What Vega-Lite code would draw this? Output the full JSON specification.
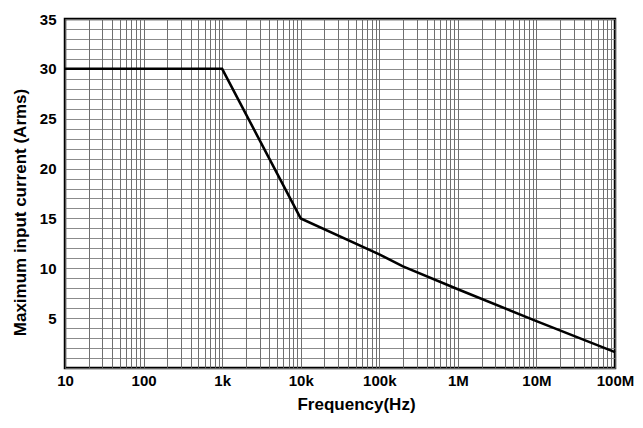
{
  "$schema": "https://vega.github.io/schema/vega-lite/v6.json",
  "autosize": {"type": "none"},
  "padding": {"left": 65, "top": 19, "right": 28, "bottom": 60},
  "width": 550,
  "height": 349,
  "background": "white",
  "config": {
    "view": {"stroke": "black", "strokeWidth": 2.5},
    "font": "Liberation Sans"
  },
  "data": {
    "values": [
      {"freq": 10, "current": 30},
      {"freq": 1000, "current": 30},
      {"freq": 10000, "current": 15},
      {"freq": 100000, "current": 11.4},
      {"freq": 200000, "current": 10.2},
      {"freq": 1000000, "current": 7.9},
      {"freq": 10000000, "current": 4.7},
      {"freq": 100000000, "current": 1.6}
    ]
  },
  "mark": {"type": "line", "color": "black", "strokeWidth": 2.5},
  "encoding": {
    "x": {
      "field": "freq",
      "type": "quantitative",
      "scale": {"type": "log", "domain": [10, 100000000], "nice": false},
      "axis": {
        "title": "Frequency(Hz)",
        "titleFontSize": 17,
        "titleFontWeight": "bold",
        "titleColor": "black",
        "titlePadding": 8,
        "titleX": 291,
        "titleAnchor": "start",
        "titleAlign": "center",
        "values": [10,20,30,40,50,60,70,80,90,100,200,300,400,500,600,700,800,900,1000,2000,3000,4000,5000,6000,7000,8000,9000,10000,20000,30000,40000,50000,60000,70000,80000,90000,100000,200000,300000,400000,500000,600000,700000,800000,900000,1000000,2000000,3000000,4000000,5000000,6000000,7000000,8000000,9000000,10000000,20000000,30000000,40000000,50000000,60000000,70000000,80000000,90000000,100000000],
        "labelExpr": "datum.value == 10 ? '10' : datum.value == 100 ? '100' : datum.value == 1000 ? '1k' : datum.value == 10000 ? '10k' : datum.value == 100000 ? '100k' : datum.value == 1000000 ? '1M' : datum.value == 10000000 ? '10M' : datum.value == 100000000 ? '100M' : ''",
        "labelFontSize": 15,
        "labelFontWeight": "bold",
        "labelColor": "black",
        "labelPadding": 5,
        "labelOverlap": false,
        "labelFlush": false,
        "ticks": false,
        "domain": false,
        "grid": true,
        "gridColor": "#5f5f5f",
        "gridWidth": 1,
        "gridOpacity": 0.9
      }
    },
    "y": {
      "field": "current",
      "type": "quantitative",
      "scale": {"domain": [0, 35], "nice": false},
      "axis": {
        "title": "Maximum input current (Arms)",
        "titleFontSize": 17,
        "titleFontWeight": "bold",
        "titleColor": "black",
        "titlePadding": 10,
        "titleY": 193,
        "titleAnchor": "start",
        "titleAlign": "center",
        "values": [0,1,2,3,4,5,6,7,8,9,10,11,12,13,14,15,16,17,18,19,20,21,22,23,24,25,26,27,28,29,30,31,32,33,34,35],
        "labelExpr": "datum.value > 0 && datum.value % 5 == 0 ? datum.label : ''",
        "labelFontSize": 15,
        "labelFontWeight": "bold",
        "labelColor": "black",
        "labelPadding": 9,
        "labelOverlap": false,
        "labelFlush": false,
        "ticks": false,
        "domain": false,
        "grid": true,
        "gridColor": "#777777",
        "gridWidth": 1,
        "gridOpacity": 0.85
      }
    }
  }
}
